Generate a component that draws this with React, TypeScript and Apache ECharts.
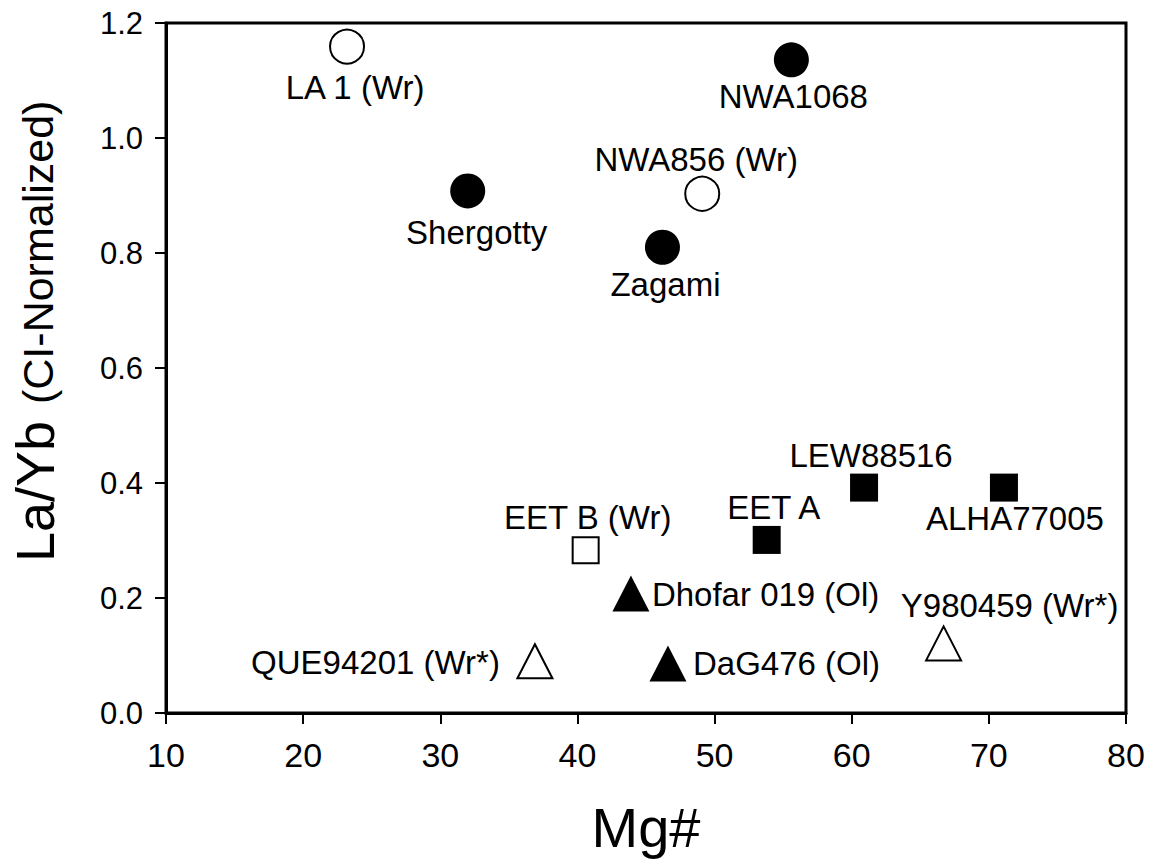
import React, { useEffect, useRef } from "react";
import * as echarts from "echarts";

const names = [
  "LA 1 (Wr)",
  "NWA1068",
  "NWA856 (Wr)",
  "Shergotty",
  "Zagami",
  "LEW88516",
  "ALHA77005",
  "EET A",
  "EET B (Wr)",
  "Dhofar 019 (Ol)",
  "DaG476 (Ol)",
  "QUE94201 (Wr*)",
  "Y980459 (Wr*)",
];
const mgNumber = [23.2, 55.6, 49.1, 32.0, 46.2, 60.9, 71.1, 53.8, 40.6, 43.9, 46.6, 36.9, 66.7];
const laYb = [1.159, 1.136, 0.903, 0.908, 0.81, 0.392, 0.392, 0.301, 0.283, 0.208, 0.086, 0.09, 0.121];
const markerGroup = [
  "openCircle",
  "filledCircle",
  "openCircle",
  "filledCircle",
  "filledCircle",
  "filledSquare",
  "filledSquare",
  "filledSquare",
  "openSquare",
  "filledTriangle",
  "filledTriangle",
  "openTriangle",
  "openTriangle",
];
const xTicks = { min: 10, max: 80, interval: 10 };
const yTicks = { min: 0, max: 1.2, interval: 0.2 };

// label placement (pixel offsets from marker centre) — layout only
const labelPlacement: Record<string, { dx: number; dy: number; align: string }> = {
  "LA 1 (Wr)": { dx: 8, dy: 41, align: "center" },
  NWA1068: { dx: 2, dy: 37, align: "center" },
  "NWA856 (Wr)": { dx: -6, dy: -34, align: "center" },
  Shergotty: { dx: 9, dy: 42, align: "center" },
  Zagami: { dx: 3, dy: 37, align: "center" },
  LEW88516: { dx: 7, dy: -32, align: "center" },
  ALHA77005: { dx: 11, dy: 31, align: "center" },
  "EET A": { dx: 7, dy: -32, align: "center" },
  "EET B (Wr)": { dx: 2, dy: -33, align: "center" },
  "Dhofar 019 (Ol)": { dx: 21, dy: 1, align: "left" },
  "DaG476 (Ol)": { dx: 25, dy: 0, align: "left" },
  "QUE94201 (Wr*)": { dx: -35, dy: 1, align: "right" },
  "Y980459 (Wr*)": { dx: 66, dy: -38, align: "center" },
};

const FONT = "'Liberation Sans', Arial, Helvetica, sans-serif";

const groupStyles: Record<string, any> = {
  filledCircle: { symbol: "circle", symbolSize: 35, itemStyle: { color: "#000", borderColor: "#000", borderWidth: 0, opacity: 1 } },
  openCircle: { symbol: "circle", symbolSize: 34, itemStyle: { color: "#fff", borderColor: "#000", borderWidth: 2, opacity: 1 } },
  filledSquare: { symbol: "rect", symbolSize: 28, itemStyle: { color: "#000", borderColor: "#000", borderWidth: 0, opacity: 1 } },
  openSquare: { symbol: "rect", symbolSize: 26, itemStyle: { color: "#fff", borderColor: "#000", borderWidth: 2, opacity: 1 } },
  filledTriangle: { symbol: "triangle", symbolSize: [37, 36], itemStyle: { color: "#000", borderColor: "#000", borderWidth: 0, opacity: 1 } },
  openTriangle: { symbol: "triangle", symbolSize: [35, 34], itemStyle: { color: "#fff", borderColor: "#000", borderWidth: 2, opacity: 1 } },
};

export default function App() {
  const ref = useRef<HTMLDivElement>(null);

  useEffect(() => {
    if (!ref.current) return;
    const chart = echarts.init(ref.current, null, { renderer: "svg" });

    const groupOrder = ["openCircle", "filledCircle", "openSquare", "filledSquare", "openTriangle", "filledTriangle"];
    const series = groupOrder.map((g) => {
      const data = names
        .map((n, i) => ({ n, i }))
        .filter(({ i }) => markerGroup[i] === g)
        .map(({ n, i }) => {
          const p = labelPlacement[n];
          return {
            name: n,
            value: [mgNumber[i], laYb[i]],
            label: {
              show: true,
              formatter: n,
              position: "inside",
              offset: [p.dx, p.dy],
              align: p.align,
              verticalAlign: "middle",
              color: "#000",
              opacity: 1,
              fontSize: 33,
              fontFamily: FONT,
            },
          };
        });
      return {
        type: "scatter",
        name: g,
        data,
        ...groupStyles[g],
        emphasis: { disabled: true },
        z: 3,
      };
    });

    chart.setOption({
      animation: false,
      backgroundColor: "#fff",
      grid: {
        left: 166,
        right: 31,
        top: 23,
        bottom: 150,
        show: true,
        borderColor: "#000",
        borderWidth: 3,
        backgroundColor: "transparent",
      },
      xAxis: {
        type: "value",
        min: xTicks.min,
        max: xTicks.max,
        interval: xTicks.interval,
        name: "Mg#",
        nameLocation: "middle",
        nameGap: 86,
        nameTextStyle: { fontSize: 56, fontFamily: FONT, color: "#000" },
        axisLine: { show: true, onZero: false, lineStyle: { color: "#000", width: 3 } },
        axisTick: { show: true, inside: false, length: 11, lineStyle: { color: "#000", width: 2 } },
        axisLabel: { margin: 25, fontSize: 34, fontFamily: FONT, color: "#000" },
        splitLine: { show: false },
      },
      yAxis: {
        type: "value",
        min: yTicks.min,
        max: yTicks.max,
        interval: yTicks.interval,
        axisLine: { show: true, onZero: false, lineStyle: { color: "#000", width: 3 } },
        axisTick: { show: true, inside: false, length: 11, lineStyle: { color: "#000", width: 2 } },
        axisLabel: {
          margin: 23,
          fontSize: 31,
          fontFamily: FONT,
          color: "#000",
          formatter: (v: number) => v.toFixed(1),
        },
        splitLine: { show: false },
      },
      graphic: [
        {
          type: "text",
          x: 35,
          y: 562,
          rotation: Math.PI / 2,
          style: {
            text: "La/Yb",
            font: `54px ${FONT}`,
            fill: "#000",
            textAlign: "left",
            textVerticalAlign: "middle",
          },
        },
        {
          type: "text",
          x: 38,
          y: 404,
          rotation: Math.PI / 2,
          style: {
            text: "(CI-Normalized)",
            font: `43px ${FONT}`,
            fill: "#000",
            textAlign: "left",
            textVerticalAlign: "middle",
          },
        },
      ],
      series,
    });

    return () => {
      chart.dispose();
    };
  }, []);

  return (
    <div
      ref={ref}
      style={{ position: "fixed", left: 0, top: 0, width: 1157, height: 863, background: "#fff" }}
    />
  );
}
